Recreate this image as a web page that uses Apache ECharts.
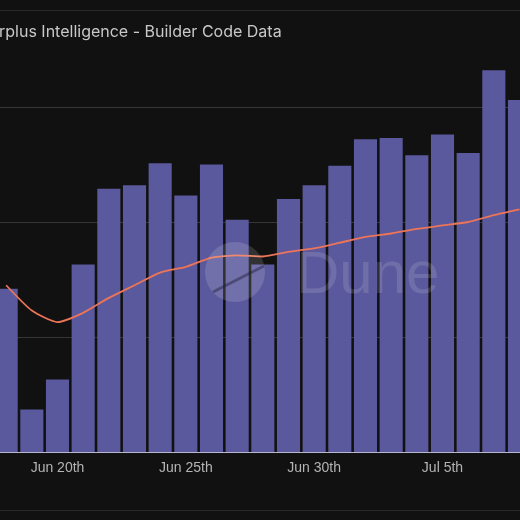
<html>
<head>
    <meta http-equiv="Content-Type" content="text/html; charset=utf-8">
    <script src="https://cdn.jsdelivr.net/npm/echarts@6/dist/echarts.min.js"></script>
    <style>
        * {
            margin: 0;
            padding: 0;
        }

        body {
            background: #111111;
        }

        #main {
            width: 520px;
            height: 520px;
        }
    </style>
</head>
<body>
<div id="main"></div>
<script type="text/javascript">
    // days shown on the axis (chart is cropped on both sides)
    let days = ['Jun 18th', 'Jun 19th', 'Jun 20th', 'Jun 21st', 'Jun 22nd', 'Jun 23rd', 'Jun 24th',
        'Jun 25th', 'Jun 26th', 'Jun 27th', 'Jun 28th', 'Jun 29th', 'Jun 30th', 'Jul 1st',
        'Jul 2nd', 'Jul 3rd', 'Jul 4th', 'Jul 5th', 'Jul 6th', 'Jul 7th', 'Jul 8th'];
    // daily bars
    let dailyValues = [142, 37, 63, 163, 229, 232, 251, 223, 250, 202, 163,
        220, 232, 249, 272, 273, 258, 276, 260, 332, 306];
    // rolling average line
    let avgValues = [145, 123, 113, 121, 134, 145, 156, 161, 169, 171, 170,
        174, 177, 182, 187, 190, 194, 197, 200, 206, 211];
    let yTicks = [0, 100, 200, 300, 400];

    let myChart = echarts.init(document.getElementById('main'));

    let option = {
        backgroundColor: '#111111',
        animation: false,
        title: {
            text: 'rplus Intelligence - Builder Code Data',
            left: -1,
            top: 24,
            padding: 0,
            textStyle: {
                color: '#c8c8c8',
                fontSize: 16,
                fontWeight: 'normal',
                fontFamily: 'Inter'
            }
        },
        grid: {
            left: -6.67,
            right: -12.33,
            top: -8,
            bottom: 68,
            outerBoundsMode: 'none',
            containLabel: false
        },
        xAxis: {
            type: 'category',
            data: days,
            axisTick: {show: false},
            axisLine: {lineStyle: {color: '#b8b8d0', width: 1}},
            axisLabel: {
                color: '#b4b4b4',
                fontSize: 14,
                fontFamily: 'Liberation Sans',
                margin: 9,
                interval: function (index) {
                    return index % 5 === 2;
                }
            }
        },
        yAxis: {
            type: 'value',
            min: yTicks[0],
            max: yTicks[yTicks.length - 1],
            interval: 100,
            axisLabel: {show: false},
            axisLine: {show: false},
            axisTick: {show: false},
            splitLine: {lineStyle: {color: '#363636', width: 1}}
        },
        graphic: [
            {
                type: 'line',
                shape: {x1: 0, y1: 10.5, x2: 520, y2: 10.5},
                style: {stroke: '#2a2a2a', lineWidth: 1},
                z: 1
            },
            {
                type: 'line',
                shape: {x1: 0, y1: 510.5, x2: 520, y2: 510.5},
                style: {stroke: '#2a2a2a', lineWidth: 1},
                z: 1
            },
            {
                type: 'circle',
                shape: {cx: 235, cy: 272, r: 30},
                style: {fill: 'rgba(255,255,255,0.14)'},
                z: 10
            },
            {
                type: 'line',
                shape: {x1: 213, y1: 292, x2: 264, y2: 266},
                style: {stroke: 'rgba(30,30,60,0.45)', lineWidth: 3},
                z: 11
            },
            {
                type: 'text',
                left: 296,
                top: 246,
                style: {
                    text: 'Dune',
                    fill: 'rgba(255,255,255,0.13)',
                    fontSize: 60,
                    fontFamily: 'Liberation Sans'
                },
                z: 10
            }
        ],
        series: [
            {
                name: 'daily',
                type: 'bar',
                data: dailyValues,
                barCategoryGap: '10%',
                itemStyle: {color: '#5b599d'}
            },
            {
                name: 'average',
                type: 'line',
                data: avgValues,
                smooth: 0.2,
                symbol: 'none',
                lineStyle: {color: '#ec7558', width: 1.8}
            }
        ]
    };

    myChart.setOption(option);
</script>
</body>
</html>
